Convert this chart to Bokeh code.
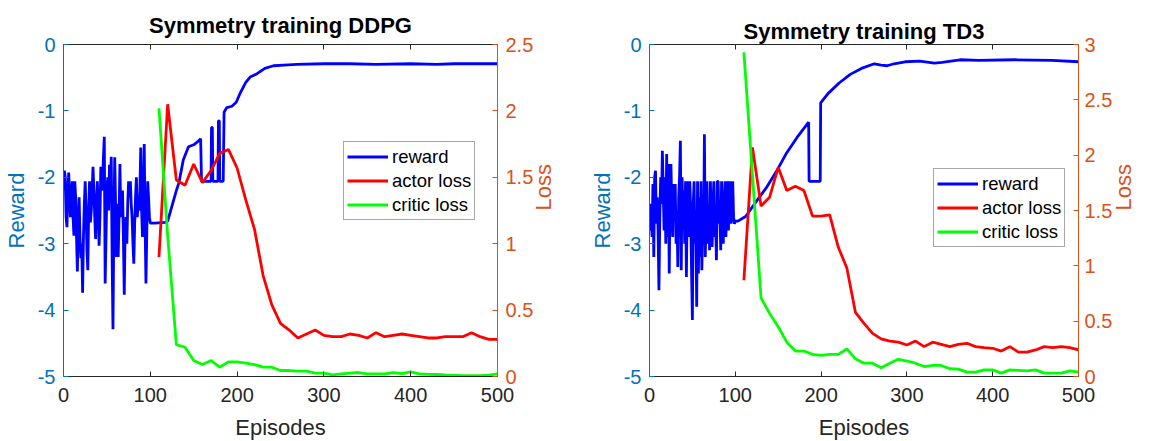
import math
from bokeh.plotting import figure
from bokeh.models import (Range1d, LinearAxis, FixedTicker, NumeralTickFormatter,
                          PrintfTickFormatter, Legend, LegendItem)
from bokeh.layouts import row
from bokeh.embed import file_html
from bokeh.resources import INLINE

# ---------------- data ----------------
ddpg_reward_x = list(range(0, 101)) + [105, 117, 120, 125, 130, 133, 138, 144, 150, 155, 158,
                 159, 170, 170.5, 171.5, 172, 178, 178.5, 179.5, 180, 184, 185, 188, 194, 199, 204,
                 210, 215, 223, 232, 242, 254, 269, 300, 330, 360, 400, 430, 450, 500]
ddpg_reward_y = [-2.2, -1.9, -2.0, -2.6, -2.75, -2.2, -1.93, -2.3, -2.6, -2.3,
                 -2.06, -2.6, -2.88, -2.06, -2.3, -2.9, -3.42, -2.6, -2.3, -2.9,
                 -3.22, -3.0, -3.74, -2.9, -2.4, -2.06, -2.5, -3.1, -3.4, -2.5,
                 -2.06, -2.68, -2.5, -2.2, -1.84, -2.2, -2.6, -2.93, -2.4, -2.06,
                 -2.5, -3.03, -2.6, -1.84, -2.2, -2.1, -1.7, -1.39, -3.6, -2.9,
                 -2.2, -2.0, -2.5, -1.81, -2.3, -1.69, -3.2, -4.29, -2.7, -1.7,
                 -2.4, -3.2, -2.4, -3.2, -2.6, -1.8, -2.6, -2.3, -2.2, -2.9,
                 -3.77, -2.8, -2.6, -3.0, -2.4, -2.06, -2.3, -2.06, -2.4, -2.6,
                 -3.0, -3.3, -2.7, -2.3, -2.0, -2.6, -2.4, -2.5, -2.2, -1.55,
                 -2.5, -2.9, -2.3, -1.5, -2.7, -3.6, -2.8, -2.06, -2.3, -2.6,
                 -2.69] + [-2.69, -2.68, -2.66, -2.43, -2.2, -2.08, -1.74, -1.54, -1.51, -1.46, -1.42,
                 -2.06, -2.06, -1.25, -1.25, -2.06, -2.06, -1.15, -1.15, -2.06, -2.06, -1.02, -0.95,
                 -0.93, -0.87, -0.72, -0.57, -0.49, -0.44, -0.36, -0.32, -0.31, -0.30, -0.29, -0.29,
                 -0.30, -0.29, -0.30, -0.29, -0.29]

loss_x = list(range(110, 501, 10))
ddpg_actor = [0.90, 2.05, 1.48, 1.44, 1.60, 1.46, 1.55, 1.68, 1.71, 1.57,
              1.33, 1.11, 0.76, 0.54, 0.40, 0.35, 0.29, 0.32, 0.35, 0.31,
              0.30, 0.30, 0.32, 0.31, 0.29, 0.33, 0.30, 0.31, 0.32, 0.31,
              0.30, 0.29, 0.29, 0.30, 0.30, 0.30, 0.33, 0.30, 0.28, 0.28]
ddpg_critic = [2.02, 1.06, 0.24, 0.22, 0.12, 0.09, 0.12, 0.07, 0.11, 0.11,
               0.10, 0.09, 0.07, 0.07, 0.045, 0.045, 0.04, 0.04, 0.025, 0.025,
               0.012, 0.02, 0.025, 0.03, 0.02, 0.02, 0.02, 0.03, 0.022, 0.035,
               0.02, 0.017, 0.015, 0.012, 0.01, 0.007, 0.007, 0.007, 0.01, 0.02]

td3_reward_x = list(range(0, 101)) + [103, 112, 123, 136, 148, 159, 172, 185.5, 186, 199,
                199.5, 208, 221, 234, 247, 262, 270, 277, 285, 298, 315, 332, 341, 362, 384,
                426, 469, 500]
td3_reward_y = [-2.8, -2.4, -2.6, -2.9, -2.1, -3.2, -2.0, -1.9, -2.7, -2.3,
                -2.8, -3.7, -2.6, -2.0, -2.4, -1.6, -2.2, -2.8, -2.0, -3.0,
                -1.65, -2.9, -1.8, -3.45, -2.2, -1.8, -2.5, -2.9, -2.1, -2.6,
                -2.1, -3.0, -2.5, -3.35, -2.3, -2.0, -1.45, -3.4, -2.0, -2.6,
                -2.2, -3.0, -2.06, -3.5, -2.3, -2.06, -2.9, -2.06, -2.5, -3.4,
                -4.15, -2.4, -2.06, -3.0, -2.6, -3.95, -2.06, -3.45, -2.3, -3.2,
                -2.06, -3.4, -2.7, -3.0, -1.35, -3.2, -2.6, -2.06, -3.0, -2.5,
                -3.1, -2.06, -2.7, -3.05, -2.4, -2.06, -2.9, -2.6, -3.25, -2.06,
                -2.06, -2.7, -2.5, -3.1, -2.06, -2.8, -3.0, -2.4, -2.06, -2.9,
                -2.5, -2.06, -2.8, -2.3, -2.06, -2.7, -2.5, -2.06, -2.6, -2.7,
                -2.66] + [-2.66, -2.59, -2.39, -2.16, -1.91, -1.65, -1.40, -1.17, -2.06, -2.06,
                -0.88, -0.74, -0.58, -0.45, -0.36, -0.29, -0.31, -0.32, -0.29, -0.26, -0.25,
                -0.28, -0.27, -0.23, -0.24, -0.23, -0.24, -0.26]
td3_actor = [0.87, 2.07, 1.54, 1.62, 1.89, 1.68, 1.72, 1.68, 1.45, 1.45,
             1.46, 1.17, 0.98, 0.58, 0.48, 0.39, 0.34, 0.32, 0.31, 0.285,
             0.32, 0.27, 0.31, 0.29, 0.27, 0.29, 0.30, 0.27, 0.26, 0.255,
             0.23, 0.27, 0.22, 0.22, 0.24, 0.27, 0.26, 0.27, 0.26, 0.24]
td3_critic = [2.93, 1.82, 0.71, 0.57, 0.45, 0.31, 0.23, 0.23, 0.20, 0.19,
              0.20, 0.20, 0.25, 0.16, 0.12, 0.12, 0.08, 0.12, 0.155, 0.14,
              0.12, 0.09, 0.10, 0.10, 0.07, 0.067, 0.04, 0.04, 0.06, 0.06,
              0.03, 0.06, 0.055, 0.05, 0.06, 0.03, 0.03, 0.03, 0.05, 0.04]

x_ticks = [0, 100, 200, 300, 400, 500]
reward_ticks = [-5, -4, -3, -2, -1, 0]
ddpg_loss_ticks = [0, 0.5, 1, 1.5, 2, 2.5]
td3_loss_ticks = [0, 0.5, 1, 1.5, 2, 2.5, 3]

FONT = "Liberation Sans"
DARK = "#262626"
LBLUE = "#0072BD"
LORANGE = "#D95319"


def make(title, rx, ry, actor, critic, loss_max, loss_ticks, frame, borders, standoffs,
         title_standoff, legend_loc):
    left, right, top, bottom = borders
    fw, fh = frame
    p = figure(width=fw + left + right, height=fh + top + bottom,
               frame_width=fw, frame_height=fh,
               x_range=Range1d(0, 500), y_range=Range1d(-5, 0),
               output_backend="svg", toolbar_location=None,
               min_border_left=left, min_border_right=right,
               min_border_top=top, min_border_bottom=bottom)
    p.outline_line_color = None
    p.xgrid.visible = False
    p.ygrid.visible = False
    p.background_fill_color = "white"
    p.border_fill_color = "white"

    p.title.text = title
    p.title.text_font = FONT
    p.title.text_font_size = "22px"
    p.title.text_font_style = "bold"
    p.title.text_color = "black"
    p.title.align = "center"
    p.title.standoff = title_standoff

    xa = p.below[0]
    la = p.left[0]

    p.extra_y_ranges = {"loss": Range1d(0, loss_max)}
    raxis = LinearAxis(y_range_name="loss")
    p.add_layout(raxis, "right")
    taxis = LinearAxis()
    p.add_layout(taxis, "above")

    for ax in (xa, taxis):
        ax.ticker = FixedTicker(ticks=x_ticks)
        ax.axis_line_color = DARK
        ax.major_tick_line_color = DARK
        ax.major_tick_in = 5
        ax.major_tick_out = 0
        ax.minor_tick_line_color = None
        ax.major_label_text_font = FONT
        ax.major_label_text_font_size = "20px"
        ax.major_label_text_color = DARK
    taxis.major_label_overrides = {t: "" for t in x_ticks}
    taxis.major_label_text_font_size = "1px"
    taxis.major_label_standoff = 0
    xa.axis_label = "Episodes"
    xa.axis_label_text_font = FONT
    xa.axis_label_text_font_size = "22px"
    xa.axis_label_text_font_style = "normal"
    xa.axis_label_text_color = DARK
    xa.axis_label_standoff = 10
    xa.major_label_standoff = 11

    la.ticker = FixedTicker(ticks=reward_ticks)
    la.formatter = PrintfTickFormatter(format="%d")
    raxis.ticker = FixedTicker(ticks=loss_ticks)
    raxis.formatter = NumeralTickFormatter(format="0.[0]")
    for ax, col, lab in ((la, LBLUE, "Reward"), (raxis, LORANGE, "Loss")):
        ax.axis_line_color = col
        ax.major_tick_line_color = col
        ax.major_tick_in = 5
        ax.major_tick_out = 0
        ax.minor_tick_line_color = None
        ax.major_label_text_font = FONT
        ax.major_label_text_font_size = "20px"
        ax.major_label_text_color = col
        ax.major_label_standoff = 8
        ax.axis_label = lab
        ax.axis_label_text_font = FONT
        ax.axis_label_text_font_size = "22px"
        ax.axis_label_text_font_style = "normal"
        ax.axis_label_text_color = col
        ax.axis_label_standoff = 6
    raxis.major_label_standoff = standoffs[0]
    raxis.axis_label_standoff = standoffs[1]
    try:
        raxis.axis_label_orientation = math.pi / 2
    except Exception:
        pass

    r1 = p.line(rx, ry, line_color="#0000FF", line_width=2.8)
    r2 = p.line(loss_x, actor, line_color="#FF0000", line_width=2.8, y_range_name="loss")
    r3 = p.line(loss_x, critic, line_color="#00FF00", line_width=2.8, y_range_name="loss")

    leg = Legend(items=[LegendItem(label="reward", renderers=[r1]),
                        LegendItem(label="actor loss", renderers=[r2]),
                        LegendItem(label="critic loss", renderers=[r3])],
                 location=legend_loc)
    leg.label_text_font = FONT
    leg.label_text_font_size = "18.5px"
    leg.label_text_color = "black"
    leg.label_standoff = 4
    leg.label_height = 23
    leg.glyph_width = 41
    leg.glyph_height = 23
    leg.spacing = 1
    leg.padding = 3
    leg.margin = 0
    leg.border_line_color = "#4d4d4d"
    leg.border_line_width = 1.5
    leg.background_fill_color = "white"
    leg.background_fill_alpha = 1.0
    p.add_layout(leg, "center")
    return p


p1 = make("Symmetry training DDPG", ddpg_reward_x, ddpg_reward_y, ddpg_actor, ddpg_critic,
          2.5, ddpg_loss_ticks, (434, 332), (63, 78, 44, 65), (8, 7), 14, (280, 156))
p2 = make("Symmetry training TD3", td3_reward_x, td3_reward_y, td3_actor, td3_critic,
          3, td3_loss_ticks, (429, 332), (74, 71, 44, 65), (6, 8), 1, (284, 129))

layout = row(p1, p2, spacing=0)
open("out.html", "w").write(file_html(layout, INLINE))
